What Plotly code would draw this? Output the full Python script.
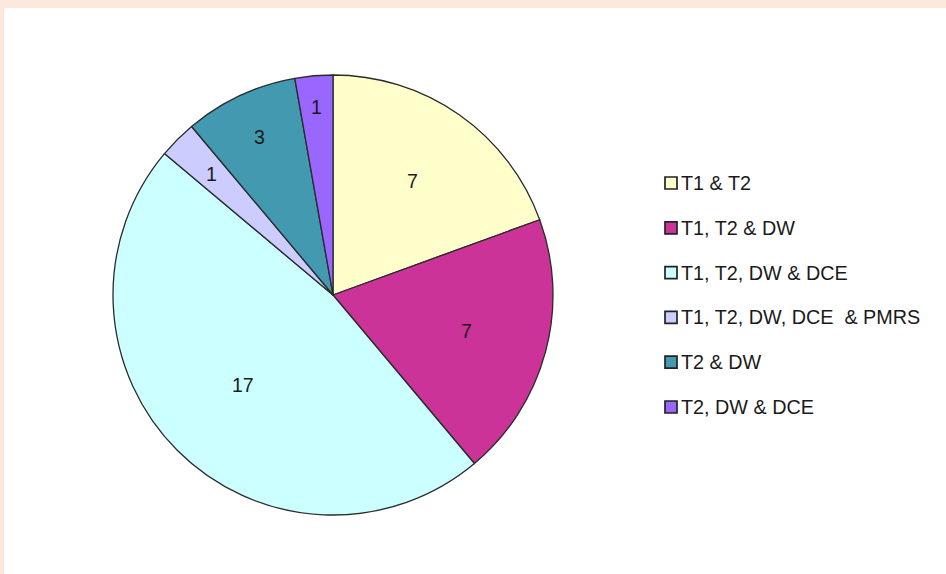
import math
import plotly.graph_objects as go

# Imaging protocol combinations and number of cases for each
protocols = ["T1 & T2", "T1, T2 & DW", "T1, T2, DW & DCE",
             "T1, T2, DW, DCE  & PMRS", "T2 & DW", "T2, DW & DCE"]
cases = [7, 7, 17, 1, 3, 1]
slice_colors = ["#FFFFCC", "#CC3399", "#CCFFFF", "#CCCCFF", "#4299B0", "#9966FF"]
# how far out (fraction of the radius) each value label sits
label_radius = [0.63, 0.63, 0.58, 0.78, 0.79, 0.86]

W, H = 946, 574
cx, cy, r = 333, 295, 220
FONT = "Liberation Sans, Arial, sans-serif"

fig = go.Figure()
fig.add_trace(go.Pie(
    labels=protocols,
    values=cases,
    sort=False,
    direction="clockwise",
    rotation=0,
    marker=dict(colors=slice_colors, line=dict(color="#2a2a2a", width=1.3)),
    textinfo="none",
    domain=dict(x=[(cx - r) / W, (cx + r) / W], y=[1 - (cy + r) / H, 1 - (cy - r) / H]),
    showlegend=False,
    hoverinfo="label+value",
))

shapes = [
    # frame strips along the top and left edges
    dict(type="rect", xref="paper", yref="paper", x0=0, x1=1, y0=1 - 8 / H, y1=1,
         fillcolor="#FDE9DB", line_width=0, layer="below"),
    dict(type="rect", xref="paper", yref="paper", x0=0, x1=4 / W, y0=0, y1=1,
         fillcolor="#FDE9DB", line_width=0, layer="below"),
]
annotations = []

# value labels at the middle angle of each slice (clockwise from 12 o'clock)
total = sum(cases)
cum = 0
for v, frac in zip(cases, label_radius):
    mid = (cum + v / 2) / total * 2 * math.pi
    cum += v
    px = cx + frac * r * math.sin(mid)
    py = cy - frac * r * math.cos(mid)
    annotations.append(dict(xref="paper", yref="paper", x=px / W, y=1 - py / H,
                            text=str(v), showarrow=False, xanchor="center", yanchor="middle",
                            font=dict(family=FONT, size=19.5, color="#1a1a1a")))

# legend: colour key squares with labels
lx, ly0, gap, sz = 665, 183, 44.8, 12
for i, (name, col) in enumerate(zip(protocols, slice_colors)):
    yc = ly0 + i * gap
    shapes.append(dict(type="rect", xref="paper", yref="paper",
                       x0=lx / W, x1=(lx + sz) / W,
                       y0=1 - (yc + sz / 2) / H, y1=1 - (yc - sz / 2) / H,
                       fillcolor=col, line=dict(color="#222222", width=1.7)))
    annotations.append(dict(xref="paper", yref="paper", x=(lx + sz + 2) / W, y=1 - yc / H,
                            text=name, showarrow=False, xanchor="left", yanchor="middle",
                            font=dict(family=FONT, size=19.8, color="#1a1a1a")))

fig.update_layout(
    width=W, height=H,
    margin=dict(l=0, r=0, t=0, b=0),
    paper_bgcolor="white",
    plot_bgcolor="white",
    shapes=shapes,
    annotations=annotations,
)

fig.write_html("out.html")
